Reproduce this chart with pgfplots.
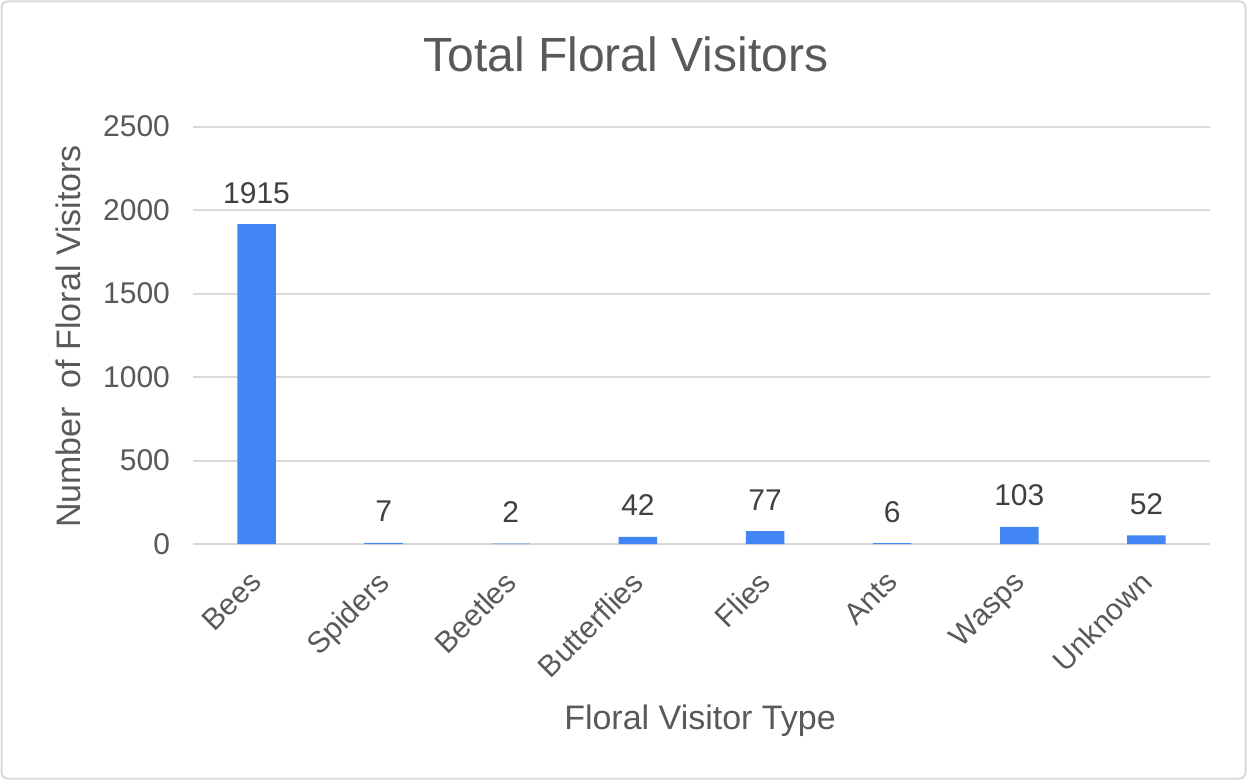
\documentclass[border=0pt]{standalone}
\usepackage{pgfplots}
\pgfplotsset{compat=1.18}
\usepackage{fontspec}
\setmainfont{Liberation Sans}

\definecolor{barblue}{HTML}{4285F4}
\definecolor{gridgray}{HTML}{D9D9D9}
\definecolor{textgray}{HTML}{595959}
\definecolor{labelgray}{HTML}{404040}

\begin{document}
\begin{tikzpicture}
\path[use as bounding box] (0,0) rectangle (623.5pt,-390pt);
\draw[gridgray, line width=1pt, rounded corners=3pt] (0.75pt,-0.75pt) rectangle (622.75pt,-389.25pt);

\begin{axis}[
    at={(96.5pt,-272pt)}, anchor=south west,
    scale only axis,
    width=508.5pt, height=208.75pt,
    ybar, bar width=19.2pt,
    xmin=-0.5, xmax=7.5,
    ymin=0, ymax=2500,
    xtick=data,
    xticklabels={Bees,Spiders,Beetles,Butterflies,Flies,Ants,Wasps,Unknown},
    ytick={0,500,1000,1500,2000,2500},
    ymajorgrids,
    grid style={gridgray, line width=1pt},
    axis lines*=left,
    y axis line style={draw=none},
    x axis line style={gridgray, line width=1pt, -},
    major tick length=0pt,
    tick style={draw=none},
    /pgf/number format/assume math mode=true,
    /pgf/number format/1000 sep={},
    ticklabel style={font=\fontsize{15}{18}\selectfont, text=textgray},
    yticklabel style={xshift=-8pt},
    xticklabel style={xshift=-4pt, yshift=-12.4pt, rotate=45, anchor=north east, inner sep=0pt},
    nodes near coords,
    nodes near coords style={font=\fontsize{15}{18}\selectfont, text=labelgray, anchor=base, yshift=10.5pt},
]
\addplot[fill=barblue, draw=none] coordinates {
    (0,1915) (1,7) (2,2) (3,42) (4,77) (5,6) (6,103) (7,52)
};
\end{axis}

\node[text=textgray, font=\fontsize{24}{28}\selectfont, anchor=base] at (312.9pt,-35.85pt) {Total Floral Visitors};
\node[text=textgray, font=\fontsize{17}{20}\selectfont, anchor=base] at (350pt,-364.5pt) {Floral Visitor Type};
\node[text=textgray, font=\fontsize{17}{20}\selectfont, rotate=90, anchor=center] at (34pt,-168.25pt) {Number\ \ of Floral Visitors};
\end{tikzpicture}
\end{document}
